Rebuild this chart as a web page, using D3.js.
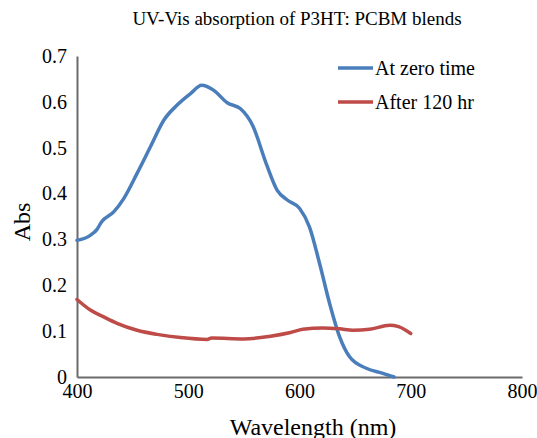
<!DOCTYPE html>
<html>
<head>
<meta charset="utf-8">
<script src="https://cdn.jsdelivr.net/npm/d3@7"></script>
<style>
  body { margin: 0; background: #fff; }
  text { font-family: "Liberation Serif", "Times New Roman", serif; fill: #000; }
</style>
</head>
<body>
<div id="chart"></div>
<script>
//chart data
var xTicks = [400, 500, 600, 700, 800];
var yTicks = [0, 0.1, 0.2, 0.3, 0.4, 0.5, 0.6, 0.7];
var seriesNames = ["At zero time", "After 120 hr"];

var zeroWave = [400, 412, 418, 422, 433, 442, 454, 466, 478, 490, 502, 512, 523, 535, 547, 558, 570, 580, 589, 600, 609, 618, 627, 636, 645, 660, 675, 685];
var zeroAbs  = [0.298, 0.309, 0.322, 0.338, 0.360, 0.389, 0.444, 0.502, 0.560, 0.593, 0.618, 0.636, 0.625, 0.598, 0.585, 0.548, 0.466, 0.407, 0.386, 0.368, 0.327, 0.248, 0.161, 0.088, 0.044, 0.019, 0.008, 0.0];

var agedWave = [400, 412, 424, 436, 454, 472, 493, 517, 521, 550, 574, 592, 603, 621, 636, 648, 663, 681, 689, 700];
var agedAbs  = [0.169, 0.146, 0.131, 0.117, 0.102, 0.093, 0.086, 0.082, 0.085, 0.083, 0.089, 0.097, 0.104, 0.107, 0.105, 0.102, 0.104, 0.113, 0.110, 0.095];

var colors = ["#4a7ebb", "#be4b48"];

//set up svg
var width = 537, height = 438;
var margin = {left: 77, right: 15, top: 56, bottom: 61};

var svg = d3.select("#chart").append("svg")
    .attr("width", width)
    .attr("height", height);

var x = d3.scaleLinear().domain([400, 800]).range([margin.left, width - margin.right]);
var y = d3.scaleLinear().domain([0, 0.7]).range([height - margin.bottom, margin.top]);

//title
svg.append("text")
    .attr("x", 297)
    .attr("y", 25)
    .attr("text-anchor", "middle")
    .style("font-size", "19px")
    .text("UV-Vis absorption of P3HT: PCBM blends");

//x-axis
var xAxis = svg.append("g")
    .attr("transform", "translate(0," + y(0) + ")")
    .call(d3.axisBottom(x).tickValues(xTicks).tickSize(0).tickPadding(7).tickFormat(d3.format("d")));
xAxis.select(".domain").attr("stroke", "#6b6b6b").attr("stroke-width", 2);
xAxis.selectAll("text").style("font-size", "20px").style("font-family", "Liberation Serif");

//y-axis
var yAxis = svg.append("g")
    .attr("transform", "translate(" + x(400) + ",0)")
    .call(d3.axisLeft(y).tickValues(yTicks).tickSize(0).tickPadding(10)
      .tickFormat(function(d) { return d === 0 ? "0" : d3.format(".1f")(d); }));
yAxis.select(".domain").attr("stroke", "#6b6b6b").attr("stroke-width", 2);
yAxis.selectAll("text").style("font-size", "20px").style("font-family", "Liberation Serif");

//axis titles
svg.append("text")
    .attr("x", 313)
    .attr("y", 435)
    .attr("text-anchor", "middle")
    .style("font-size", "24px")
    .text("Wavelength (nm)");

svg.append("text")
    .attr("transform", "translate(30," + 222 + ") rotate(-90)")
    .attr("text-anchor", "middle")
    .style("font-size", "24px")
    .text("Abs");

//lines
var line = d3.line()
    .x(function(d) { return x(d[0]); })
    .y(function(d) { return y(d[1]); })
    .curve(d3.curveMonotoneX);

var series = [d3.zip(zeroWave, zeroAbs), d3.zip(agedWave, agedAbs)];

svg.selectAll(".series")
    .data(series)
  .enter().append("path")
    .attr("class", "series")
    .attr("d", line)
    .attr("fill", "none")
    .attr("stroke", function(d, i) { return colors[i]; })
    .attr("stroke-width", 3.5)
    .attr("stroke-linejoin", "round")
    .attr("stroke-linecap", "round");

//legend
var legend = svg.selectAll(".legend")
    .data(seriesNames)
  .enter().append("g")
    .attr("class", "legend")
    .attr("transform", function(d, i) { return "translate(338," + (68 + i * 34) + ")"; });

legend.append("line")
    .attr("x1", 0).attr("x2", 35)
    .attr("stroke", function(d, i) { return colors[i]; })
    .attr("stroke-width", 3.5);

legend.append("text")
    .attr("x", 37)
    .attr("y", 7)
    .style("font-size", "20px")
    .text(function(d) { return d; });
</script>
</body>
</html>
